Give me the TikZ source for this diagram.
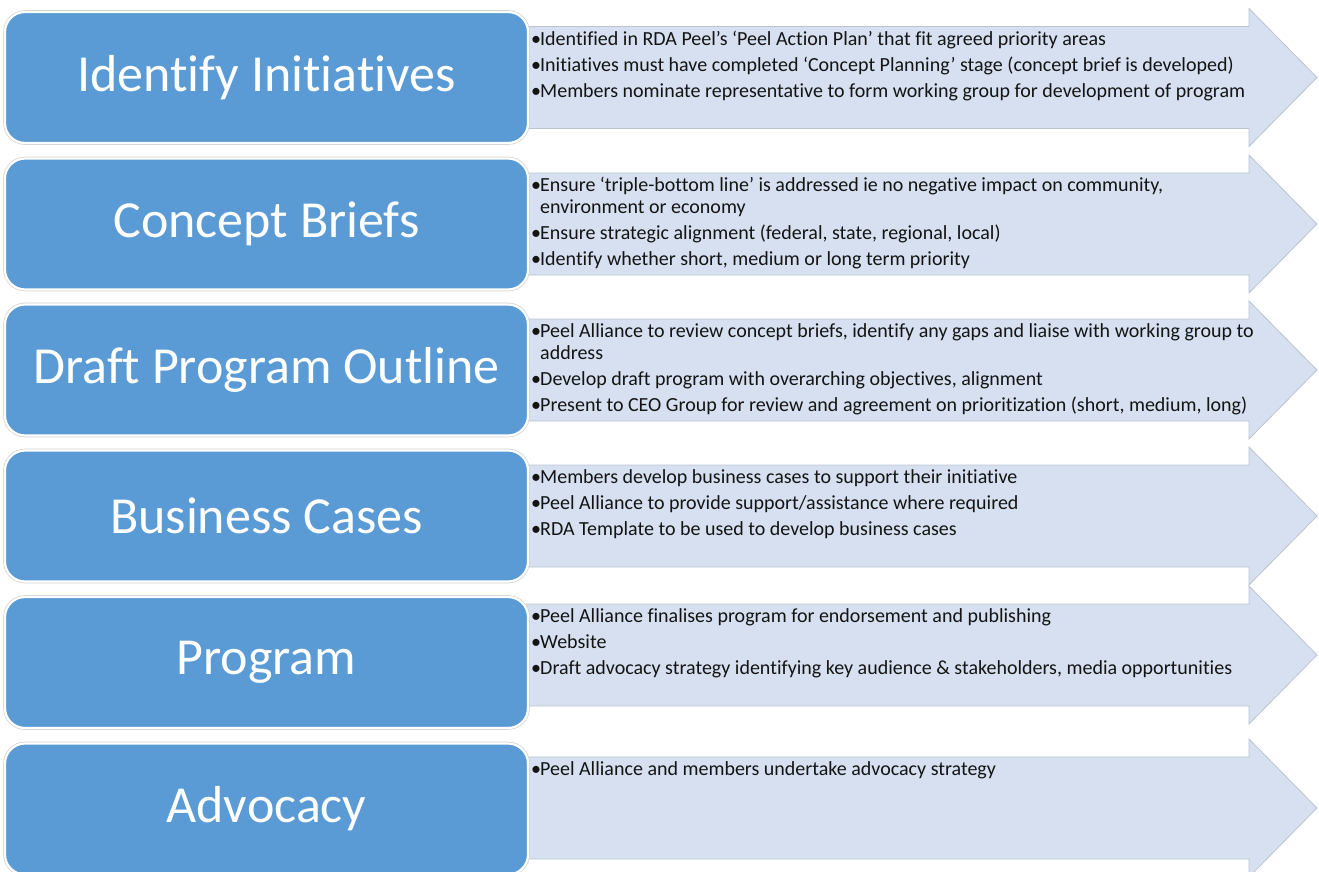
\documentclass[tikz,border=0pt]{standalone}
\usepackage{fontspec}
\setmainfont[Ligatures=NoCommon]{Carlito}
\definecolor{boxblue}{RGB}{91,155,213}
\definecolor{arrowfill}{RGB}{214,224,240}
\definecolor{arrowedge}{RGB}{188,196,208}
\definecolor{desctext}{RGB}{20,20,20}
\newcommand{\bul}{\makebox[9pt][l]{\textbullet}}
\newcommand{\cont}{\hspace*{9pt}}
\tikzset{
  titlebox/.style={rounded corners=20pt, fill=boxblue, draw=white, line width=2.2pt,
    preaction={draw=black!18, line width=3.6pt},
    minimum width=523pt, minimum height=131pt, text=white, inner sep=0pt,
    font=\fontsize{52}{60}\selectfont},
  desc/.style={anchor=north west, inner sep=0pt, align=left, text=desctext,
    font=\fontsize{20}{22}\selectfont},
  arrowbody/.style={fill=arrowfill, draw=arrowedge, line width=0.8pt, line join=miter}
}
\newcommand{\flowarrow}[1]{%
  \path[arrowbody] (510,#1-51) -- (1249,#1-51) -- (1249,#1-69) -- (1317,#1)
    -- (1249,#1+69) -- (1249,#1+51) -- (510,#1+51) -- cycle;}
\begin{document}
\begin{tikzpicture}[x=1pt,y=-1pt]
\useasboundingbox (0,0) rectangle (1319,872);
\clip (0,0) rectangle (1319,872);
% arrows
\flowarrow{77.5}
\flowarrow{224}
\flowarrow{370}
\flowarrow{516}
\flowarrow{655}
\flowarrow{808}
% boxes
\node[titlebox] (b1) at (266.5,77.5) {Identify Initiatives};
\node[titlebox] (b2) at (266.5,224) {Concept Briefs};
\node[titlebox] (b3) at (266.5,370) {Draft Program Outline};
\node[titlebox] (b4) at (266.5,516) {Business Cases};
\node[titlebox] (b5) at (266.5,662.5) {Program};
\node[titlebox] (b6) at (266.5,809) {Advocacy};
% descriptions
\node[desc] (d1) at (531,77.5-48) {\strut\bul Identified in RDA Peel’s ‘Peel Action Plan’ that fit agreed priority areas\\[4pt]
\bul Initiatives must have completed ‘Concept Planning’ stage (concept brief is developed)\\[4pt]
\bul Members nominate representative to form working group for development of program};
\node[desc] (d2) at (531,224-48) {\strut\bul Ensure ‘triple-bottom line’ is addressed ie no negative impact on community,\\
\cont environment or economy\\[4pt]
\bul Ensure strategic alignment (federal, state, regional, local)\\[4pt]
\bul Identify whether short, medium or long term priority};
\node[desc] (d3) at (531,370-48) {\strut\bul Peel Alliance to review concept briefs, identify any gaps and liaise with working group to\\
\cont address\\[4pt]
\bul Develop draft program with overarching objectives, alignment\\[4pt]
\bul Present to CEO Group for review and agreement on prioritization (short, medium, long)};
\node[desc] (d4) at (531,516-48) {\strut\bul Members develop business cases to support their initiative\\[4pt]
\bul Peel Alliance to provide support/assistance where required\\[4pt]
\bul RDA Template to be used to develop business cases};
\node[desc] (d5) at (531,655-48) {\strut\bul Peel Alliance finalises program for endorsement and publishing\\[4pt]
\bul Website\\[4pt]
\bul Draft advocacy strategy identifying key audience \& stakeholders, media opportunities};
\node[desc] (d6) at (531,808-48) {\strut\bul Peel Alliance and members undertake advocacy strategy};
\end{tikzpicture}
\end{document}
